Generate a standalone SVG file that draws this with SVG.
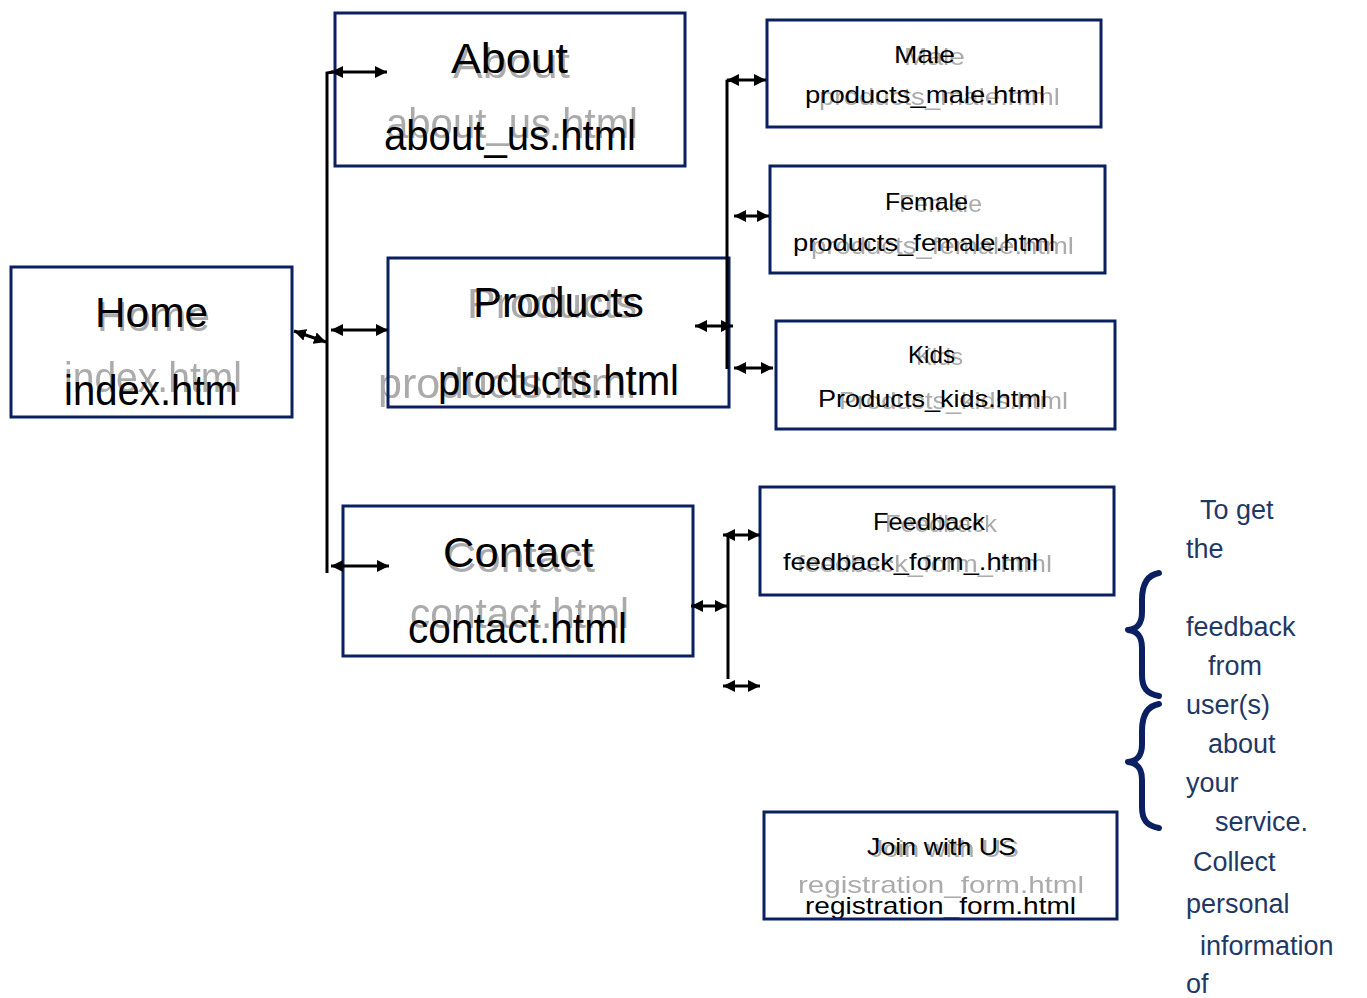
<svg xmlns="http://www.w3.org/2000/svg" width="1367" height="998" viewBox="0 0 1367 998">
<defs>
<style>
.box{fill:none;stroke:#0b2060;stroke-width:3}
.t{font-family:"Liberation Sans",Arial,sans-serif;fill:#000}
.g{font-family:"Liberation Sans",Arial,sans-serif;fill:#ababab;filter:url(#soft)}
.big{font-size:42px}
.sm{font-size:24px}
.note{font-family:"Liberation Sans",Arial,sans-serif;font-size:27px;fill:#1f3864}
.c{stroke:#000;stroke-width:3;fill:none}
.a{stroke:#000;stroke-width:3;fill:none;marker-start:url(#ah);marker-end:url(#ah)}
.brace{fill:none;stroke:#0b2060;stroke-width:6;stroke-linecap:round;stroke-linejoin:round}
</style>
<filter id="soft" x="-5%" y="-20%" width="110%" height="140%">
<feGaussianBlur stdDeviation="0.6"/>
</filter>
<marker id="ah" markerUnits="userSpaceOnUse" markerWidth="14" markerHeight="12" refX="12" refY="6" orient="auto-start-reverse" viewBox="0 0 14 12">
<path d="M0,0 L12,6 L0,12 z" fill="#000"/>
</marker>
</defs>
<rect width="1367" height="998" fill="#fff"/>

<g id="home">
<text class="g big" x="97" y="331" textLength="113" lengthAdjust="spacingAndGlyphs">Home</text>
<text class="t big" x="95" y="327" textLength="113" lengthAdjust="spacingAndGlyphs">Home</text>
<text class="g big" x="64" y="392" textLength="178" lengthAdjust="spacingAndGlyphs">index.html</text>
<text class="t big" x="64" y="405" textLength="174" lengthAdjust="spacingAndGlyphs">index.htm</text>
<rect class="box" x="11" y="267" width="281" height="150"/>
</g>

<g id="about">
<text class="g big" x="453" y="78" textLength="117" lengthAdjust="spacingAndGlyphs">About</text>
<text class="t big" x="451" y="73" textLength="117" lengthAdjust="spacingAndGlyphs">About</text>
<text class="g big" x="386" y="138" textLength="252" lengthAdjust="spacingAndGlyphs">about_us.html</text>
<text class="t big" x="384" y="150" textLength="252" lengthAdjust="spacingAndGlyphs">about_us.html</text>
<rect class="box" x="335" y="13" width="350" height="153"/>
</g>

<g id="products">
<text class="g big" x="467" y="318" textLength="170" lengthAdjust="spacingAndGlyphs">Products</text>
<text class="t big" x="473" y="317" textLength="171" lengthAdjust="spacingAndGlyphs">Products</text>
<text class="g big" x="378" y="398" textLength="258" lengthAdjust="spacingAndGlyphs">products.html</text>
<text class="t big" x="438" y="395" textLength="241" lengthAdjust="spacingAndGlyphs">products.html</text>
<rect class="box" x="388" y="258" width="341" height="149"/>
</g>

<g id="contact">
<text class="g big" x="445" y="572" textLength="150" lengthAdjust="spacingAndGlyphs">Contact</text>
<text class="t big" x="443" y="567" textLength="150" lengthAdjust="spacingAndGlyphs">Contact</text>
<text class="g big" x="410" y="628" textLength="219" lengthAdjust="spacingAndGlyphs">contact.html</text>
<text class="t big" x="408" y="643" textLength="219" lengthAdjust="spacingAndGlyphs">contact.html</text>
<rect class="box" x="343" y="506" width="350" height="150"/>
</g>

<g id="male">
<text class="g sm" x="904" y="65" textLength="61" lengthAdjust="spacingAndGlyphs">Male</text>
<text class="t sm" x="894" y="63" textLength="61" lengthAdjust="spacingAndGlyphs">Male</text>
<text class="g sm" x="819" y="105" textLength="241" lengthAdjust="spacingAndGlyphs">products_male.html</text>
<text class="t sm" x="805" y="103" textLength="240" lengthAdjust="spacingAndGlyphs">products_male.html</text>
<rect class="box" x="767" y="20" width="334" height="107"/>
</g>

<g id="female">
<text class="g sm" x="899" y="212" textLength="83" lengthAdjust="spacingAndGlyphs">Female</text>
<text class="t sm" x="885" y="210" textLength="83" lengthAdjust="spacingAndGlyphs">Female</text>
<text class="g sm" x="811" y="254" textLength="263" lengthAdjust="spacingAndGlyphs">products_female.html</text>
<text class="t sm" x="793" y="251" textLength="262" lengthAdjust="spacingAndGlyphs">products_female.html</text>
<rect class="box" x="770" y="166" width="335" height="107"/>
</g>

<g id="kids">
<text class="g sm" x="916" y="365" textLength="47" lengthAdjust="spacingAndGlyphs">Kids</text>
<text class="t sm" x="908" y="363" textLength="47" lengthAdjust="spacingAndGlyphs">Kids</text>
<text class="g sm" x="839" y="409" textLength="229" lengthAdjust="spacingAndGlyphs">Products_kids.html</text>
<text class="t sm" x="818" y="407" textLength="229" lengthAdjust="spacingAndGlyphs">Products_kids.html</text>
<rect class="box" x="776" y="321" width="339" height="108"/>
</g>

<g id="feedback">
<text class="g sm" x="885" y="532" textLength="112" lengthAdjust="spacingAndGlyphs">Feedback</text>
<text class="t sm" x="873" y="530" textLength="112" lengthAdjust="spacingAndGlyphs">Feedback</text>
<text class="g sm" x="797" y="572" textLength="255" lengthAdjust="spacingAndGlyphs">feedback_form_.html</text>
<text class="t sm" x="783" y="570" textLength="255" lengthAdjust="spacingAndGlyphs">feedback_form_.html</text>
<rect class="box" x="760" y="487" width="354" height="108"/>
</g>

<g id="join">
<text class="g sm" x="870" y="857" textLength="149" lengthAdjust="spacingAndGlyphs">Join with US</text>
<text class="t sm" x="867" y="855" textLength="149" lengthAdjust="spacingAndGlyphs">Join with US</text>
<text class="g sm" x="798" y="893" textLength="286" lengthAdjust="spacingAndGlyphs">registration_form.html</text>
<text class="t sm" x="805" y="914" textLength="271" lengthAdjust="spacingAndGlyphs">registration_form.html</text>
<rect class="box" x="764" y="812" width="353" height="107"/>
</g>

<g id="note">
<path class="brace" d="M1159,573 C1147,575 1142,585 1142,600 L1142,612 C1142,624 1137,629 1128,630 C1137,631 1142,636 1142,648 L1142,675 C1142,688 1147,694 1159,696"/>
<path class="brace" d="M1159,704 C1147,706 1142,716 1142,731 L1142,744 C1142,756 1137,761 1128,762 C1137,763 1142,768 1142,780 L1142,807 C1142,820 1147,826 1159,828"/>
<text class="note" x="1200" y="519">To get</text>
<text class="note" x="1186" y="558">the</text>
<text class="note" x="1186" y="636">feedback</text>
<text class="note" x="1208" y="675">from</text>
<text class="note" x="1186" y="714">user(s)</text>
<text class="note" x="1208" y="753">about</text>
<text class="note" x="1186" y="792">your</text>
<text class="note" x="1215" y="831">service.</text>
<text class="note" x="1193" y="871">Collect</text>
<text class="note" x="1186" y="913">personal</text>
<text class="note" x="1200" y="955">information</text>
<text class="note" x="1186" y="993">of</text>
</g>

<g id="connectors">
<path class="c" d="M333,72 L327,73 L327,573"/>
<path class="c" d="M733,80 L727,81 L727,369"/>
<path class="c" d="M728,535 L728,679"/>
<line class="a" x1="331" y1="72" x2="387" y2="72"/>
<line class="a" x1="331" y1="330" x2="388" y2="330"/>
<line class="a" x1="331" y1="566" x2="389" y2="566"/>
<line class="a" x1="294" y1="331" x2="326" y2="342"/>
<line class="a" x1="695" y1="326" x2="733" y2="326"/>
<line class="a" x1="727" y1="80" x2="766" y2="80"/>
<line class="a" x1="734" y1="216" x2="769" y2="216"/>
<line class="a" x1="734" y1="368" x2="773" y2="368"/>
<line class="a" x1="723" y1="535" x2="760" y2="535"/>
<line class="a" x1="691" y1="606" x2="727" y2="606"/>
<line class="a" x1="723" y1="686" x2="760" y2="686"/>
</g>
</svg>
